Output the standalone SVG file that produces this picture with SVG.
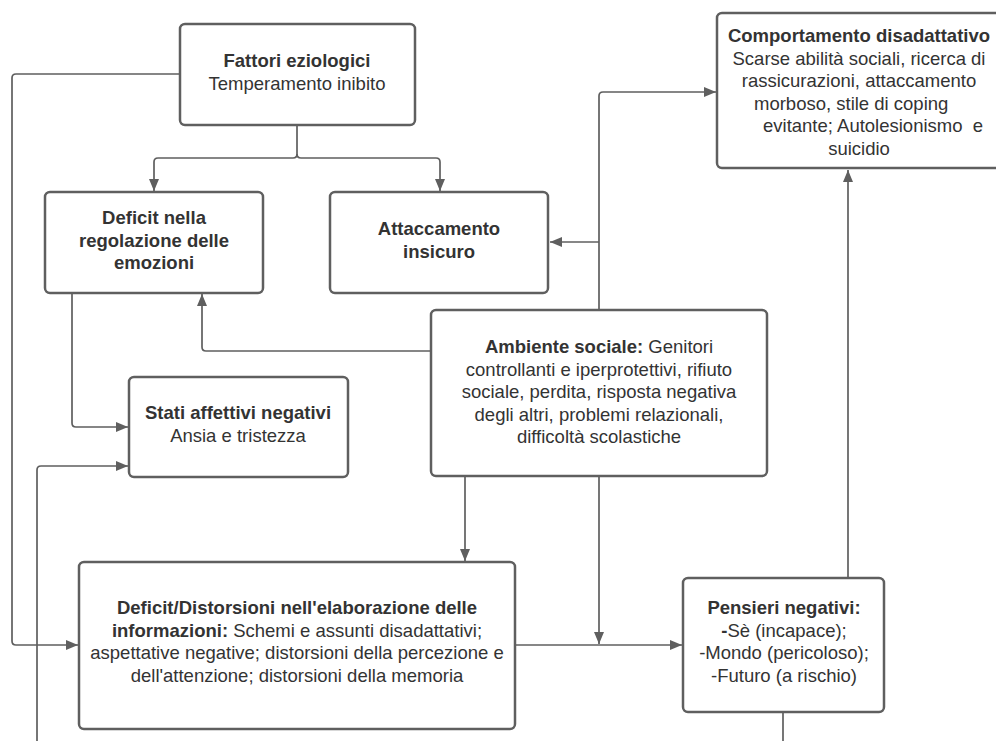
<svg xmlns="http://www.w3.org/2000/svg" width="996" height="741" viewBox="0 0 996 741">
<style>
.box{fill:#ffffff;stroke:#5f5f5f;stroke-width:2.5}
.c{fill:none;stroke:#5f5f5f;stroke-width:1.7}
.t{font-family:"Liberation Sans",Arial,sans-serif;font-size:18.5px;fill:#333333;text-anchor:middle}
.ts{font-family:"Liberation Sans",Arial,sans-serif;font-size:18.5px;fill:#333333}
.b{font-weight:bold}
</style>
<defs>
<marker id="ah" markerUnits="userSpaceOnUse" markerWidth="13" markerHeight="11" refX="12" refY="5" orient="auto" viewBox="0 0 13 10">
<path d="M0,0 L12,5 L0,10 z" fill="#5f5f5f"/>
</marker>
</defs>
<rect width="996" height="741" fill="#ffffff"/>
<g id="connectors">
<path class="c" d="M297,126 V154 Q297,158 293,158 H158 Q154,158 154,162 V191" marker-end="url(#ah)"/>
<path class="c" d="M297,154 Q297,158 301,158 H436 Q440,158 440,162 V191" marker-end="url(#ah)"/>
<path class="c" d="M180,74 H16 Q12,74 12,78 V641 Q12,645 16,645 H78" marker-end="url(#ah)"/>
<path class="c" d="M72,293 V423 Q72,427 76,427 H128" marker-end="url(#ah)"/>
<path class="c" d="M37,741 V470 Q37,466 41,466 H128" marker-end="url(#ah)"/>
<path class="c" d="M431,351 H206 Q202,351 202,347 V294" marker-end="url(#ah)"/>
<path class="c" d="M599,310 V96 Q599,92 603,92 H716" marker-end="url(#ah)"/>
<path class="c" d="M599,242 H550" marker-end="url(#ah)"/>
<path class="c" d="M465,476 V561" marker-end="url(#ah)"/>
<path class="c" d="M599,476 V644" marker-end="url(#ah)"/>
<path class="c" d="M515,645 H682" marker-end="url(#ah)"/>
<path class="c" d="M848,578 V170" marker-end="url(#ah)"/>
<path class="c" d="M783,712 V741"/>
</g>
<g id="fattori">
<rect class="box" x="180" y="24" width="235" height="101" rx="5"/>
<text class="t b" x="297" y="67">Fattori eziologici</text>
<text class="t" x="297" y="89.5">Temperamento inibito</text>
</g>
<g id="deficit-regolazione">
<rect class="box" x="45" y="192" width="218" height="101" rx="5"/>
<text class="t b" x="154" y="224">Deficit nella</text>
<text class="t b" x="154" y="246.5">regolazione delle</text>
<text class="t b" x="154" y="269">emozioni</text>
</g>
<g id="attaccamento">
<rect class="box" x="330" y="192" width="218" height="101" rx="5"/>
<text class="t b" x="439" y="235">Attaccamento</text>
<text class="t b" x="439" y="257.5">insicuro</text>
</g>
<g id="comportamento">
<rect class="box" x="717" y="13" width="284" height="155" rx="5"/>
<text class="t b" x="859" y="42">Comportamento disadattativo</text>
<text class="t" x="859" y="64.5">Scarse abilità sociali, ricerca di</text>
<text class="t" x="859" y="87">rassicurazioni, attaccamento</text>
<text class="ts" x="754" y="109.5">morboso, stile di coping</text>
<text class="ts" x="763" y="132" xml:space="preserve">evitante; Autolesionismo  e</text>
<text class="t" x="859" y="154.5">suicidio</text>
</g>
<g id="ambiente">
<rect class="box" x="431" y="310" width="336" height="166" rx="5"/>
<text class="t" x="599" y="353"><tspan class="b">Ambiente sociale:</tspan> Genitori</text>
<text class="t" x="599" y="375.5">controllanti e iperprotettivi, rifiuto</text>
<text class="t" x="599" y="398">sociale, perdita, risposta negativa</text>
<text class="t" x="599" y="420.5">degli altri, problemi relazionali,</text>
<text class="t" x="599" y="443">difficoltà scolastiche</text>
</g>
<g id="stati">
<rect class="box" x="129" y="377" width="219" height="100" rx="5"/>
<text class="t b" x="238" y="419">Stati affettivi negativi</text>
<text class="t" x="238" y="441.5">Ansia e tristezza</text>
</g>
<g id="elaborazione">
<rect class="box" x="79" y="562" width="436" height="167" rx="5"/>
<text class="t b" x="297" y="614">Deficit/Distorsioni nell'elaborazione delle</text>
<text class="t" x="297" y="636.5"><tspan class="b">informazioni:</tspan> Schemi e assunti disadattativi;</text>
<text class="t" x="297" y="659">aspettative negative; distorsioni della percezione e</text>
<text class="t" x="297" y="681.5">dell'attenzione; distorsioni della memoria</text>
</g>
<g id="pensieri">
<rect class="box" x="683" y="578" width="201" height="134" rx="5"/>
<text class="t b" x="784" y="614">Pensieri negativi:</text>
<text class="t" x="784" y="636.5"><tspan class="b">-</tspan>Sè (incapace);</text>
<text class="t" x="784" y="659">-Mondo (pericoloso);</text>
<text class="t" x="784" y="681.5">-Futuro (a rischio)</text>
</g>
</svg>
